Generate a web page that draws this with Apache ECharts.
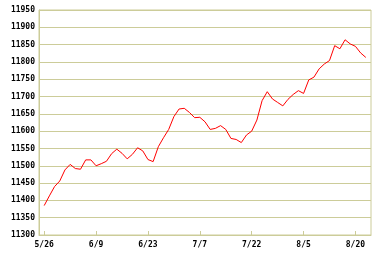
<!DOCTYPE html>
<html>
<head>
<meta charset="utf-8">
<script src="https://cdn.jsdelivr.net/npm/echarts@6/dist/echarts.min.js"></script>
<style>
  html, body { margin: 0; padding: 0; background: #fff; }
  #chart { width: 382px; height: 258px; }
</style>
</head>
<body>
<div id="chart"></div>
<script>
// trading days
var dates = ['5/26', '5/27', '5/28', '5/29', '5/30', '6/2', '6/3', '6/4', '6/5', '6/6',
  '6/9', '6/10', '6/11', '6/12', '6/13', '6/16', '6/17', '6/18', '6/19', '6/20',
  '6/23', '6/24', '6/25', '6/26', '6/27', '6/30', '7/1', '7/2', '7/3', '7/4',
  '7/7', '7/8', '7/9', '7/10', '7/11', '7/14', '7/15', '7/16', '7/17', '7/18',
  '7/22', '7/23', '7/24', '7/25', '7/28', '7/29', '7/30', '7/31', '8/1', '8/4',
  '8/5', '8/6', '8/7', '8/8', '8/11', '8/12', '8/13', '8/14', '8/18', '8/19',
  '8/20', '8/21', '8/22']

var closes = [11385, 11413, 11440, 11456, 11488, 11504, 11492, 11490, 11517, 11517,
  11500, 11506, 11513, 11535, 11548, 11536, 11520, 11533, 11552, 11543,
  11518, 11512, 11555, 11581, 11605, 11642, 11664, 11666, 11654, 11639,
  11640, 11627, 11605, 11608, 11616, 11605, 11579, 11576, 11567, 11589,
  11600, 11632, 11688, 11714, 11693, 11683, 11673, 11692, 11706, 11717,
  11709, 11748, 11756, 11780, 11794, 11804, 11847, 11838, 11864, 11852,
  11845, 11826, 11813]

var yMin = 11300
var yMax = 11950
var yStep = 50

var gridColor = '#cccc99'

var chart = echarts.init(document.getElementById('chart'), null, { renderer: 'canvas' })

// one empty slot at each end so the line sits off the frame
var cats = [''].concat(dates).concat([''])
var vals = [null].concat(closes).concat([null])

function isLabelled (idx) {
  return idx > 0 && idx <= dates.length && (idx - 1) % 10 === 0
}

chart.setOption({
  animation: false,
  backgroundColor: '#ffffff',
  grid: {
    left: 39,
    right: 11,
    top: 10,
    bottom: 23,
    show: true,
    borderColor: gridColor,
    borderWidth: 1
  },
  xAxis: {
    type: 'category',
    data: cats,
    boundaryGap: false,
    axisLine: { lineStyle: { color: gridColor } },
    axisTick: {
      inside: true,
      length: 4,
      interval: isLabelled,
      lineStyle: { color: gridColor }
    },
    axisLabel: {
      interval: isLabelled,
      color: '#000',
      fontFamily: 'DejaVu Sans Mono',
      fontSize: 8,
      fontWeight: 'bold',
      margin: 6
    },
    splitLine: { show: false }
  },
  yAxis: {
    type: 'value',
    min: yMin,
    max: yMax,
    interval: yStep,
    axisLine: { show: true, lineStyle: { color: gridColor } },
    axisTick: { show: false },
    axisLabel: {
      color: '#000',
      fontFamily: 'DejaVu Sans Mono',
      fontSize: 8,
      fontWeight: 'bold',
      margin: 4,
      formatter: function (v) { return String(v) }
    },
    splitLine: { lineStyle: { color: gridColor, width: 1 } }
  },
  series: [{
    type: 'line',
    data: vals,
    showSymbol: false,
    symbol: 'none',
    connectNulls: false,
    lineStyle: { color: '#ff0000', width: 1 }
  }]
})
</script>
</body>
</html>
